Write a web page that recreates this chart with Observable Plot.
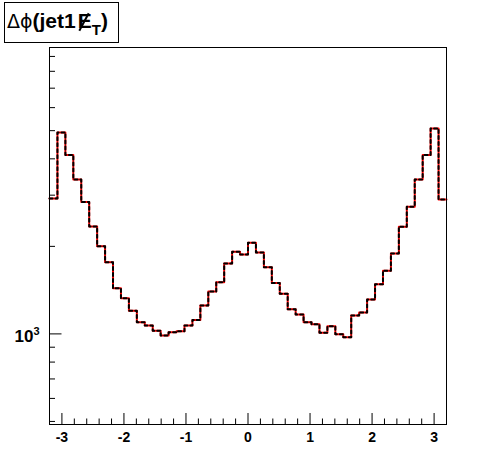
<!DOCTYPE html>
<html><head><meta charset="utf-8">
<script src="https://cdn.jsdelivr.net/npm/d3@7"></script>
<script src="https://cdn.jsdelivr.net/npm/@observablehq/plot@0.6"></script>
<style>
body{margin:0;background:#fff;}
#wrap{position:relative;width:496px;height:472px;overflow:hidden;}
#title{position:absolute;left:4px;top:2px;width:113px;height:39px;border:1px solid #000;background:#fff;font-family:"Liberation Sans",Arial,sans-serif;white-space:nowrap;}
#title .t{position:absolute;left:2px;top:7px;font-size:21px;line-height:21px;font-weight:bold;color:#000;}
#title .g{font-weight:normal;font-family:"DejaVu Sans","Liberation Sans",sans-serif;font-size:19px;}
#title .es{position:relative;display:inline-block;margin-left:2px;}
#title .es .sl{position:absolute;left:5px;top:2px;width:0;height:20px;border-left:2.2px solid #000;transform:rotate(28deg);transform-origin:50% 50%;}
#title .sb{font-size:15px;position:relative;top:7px;}
</style></head><body>
<div id="wrap"><div id="chart"></div>
<div id="title"><span class="t"><span class="g">Δϕ</span>(jet1<span class="es">E<span class="sl"></span></span><span class="sb">T</span>)</span></div>
</div>
<script>
// Δφ(jet1, missing ET) histogram: 50 bins over [-3.2, 3.2]
const binCounts = [2924, 4931, 4124, 3398, 2842, 2343, 2000, 1762, 1435, 1325,
  1202, 1096, 1068, 1026, 987, 1013, 1021, 1068, 1117, 1251,
  1398, 1504, 1748, 1917, 1877, 2060, 1907, 1694, 1497, 1373,
  1215, 1165, 1096, 1079, 1010, 1062, 997, 974, 1156, 1184,
  1312, 1481, 1650, 1892, 2337, 2739, 3398, 4124, 5088, 2901];
const xRange = [-3.2, 3.2];
const yRange = [488, 9660];
const xMajorTicks = [-3, -2, -1, 0, 1, 2, 3];
const xMinorTicks = [-2.8, -2.6, -2.4, -2.2, -1.8, -1.6, -1.4, -1.2, -0.8, -0.6, -0.4, -0.2,
  0.2, 0.4, 0.6, 0.8, 1.2, 1.4, 1.6, 1.8, 2.2, 2.4, 2.6, 2.8];
const yMajorTicks = [1000];
const yMinorTicks = [500, 600, 700, 800, 900, 2000, 3000, 4000, 5000, 6000, 7000, 8000, 9000];

const binWidth = (xRange[1] - xRange[0]) / binCounts.length;
const hist = binCounts.map((v, i) => ({x: xRange[0] + i * binWidth, y: v}));
hist.push({x: xRange[1], y: binCounts[binCounts.length - 1]});

const font = "Liberation Sans, Arial, sans-serif";
const chart = Plot.plot({
  width: 496, height: 472,
  marginLeft: 49, marginRight: 50, marginTop: 47, marginBottom: 48,
  style: {fontFamily: font, background: "#fff", color: "#000"},
  x: {domain: xRange, nice: false},
  y: {type: "log", domain: yRange, nice: false},
  marks: [
    Plot.line(hist, {x: "x", y: "y", curve: "step-after", stroke: "#ff0000", strokeWidth: 2}),
    Plot.line(hist, {x: "x", y: "y", curve: "step-after", stroke: "#000", strokeWidth: 2, strokeDasharray: "3,3"}),
    Plot.axisX({ticks: xMajorTicks, tickSize: -11, tickFormat: () => "", label: null}),
    Plot.axisX({ticks: xMinorTicks, tickSize: -5.5, tickFormat: () => "", label: null}),
    Plot.axisX({ticks: xMajorTicks, tickSize: 0, tickPadding: 8, tickFormat: d => String(d), label: null, fontSize: 14, fontWeight: "bold"}),
    Plot.axisY({ticks: yMajorTicks, tickSize: -12.5, tickFormat: () => "", label: null}),
    Plot.axisY({ticks: yMinorTicks, tickSize: -6, tickFormat: () => "", label: null}),
    Plot.axisY({ticks: yMajorTicks, tickSize: 0, tickPadding: 10, tickFormat: () => "10", label: null, fontSize: 17, fontWeight: "bold", dy: 3}),
    Plot.frame({stroke: "#000", strokeWidth: 1})
  ]
});
document.getElementById("chart").appendChild(chart);
// superscript exponent on the y tick label "10" -> 10^3
d3.select(chart).selectAll("g[aria-label='y-axis tick label'] text").each(function() {
  if (this.textContent === "10") {
    d3.select(this).append("tspan").attr("dy", "-7").attr("font-size", 11).text("3");
  }
});
</script>
</body></html>
